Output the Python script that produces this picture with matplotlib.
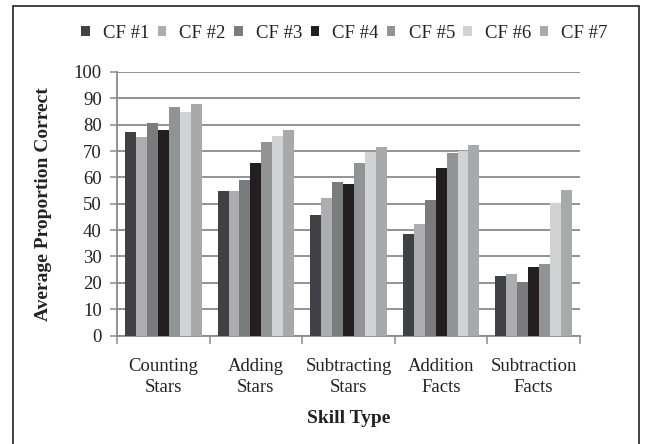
import matplotlib
matplotlib.use("Agg")
import matplotlib.pyplot as plt
from matplotlib.patches import Rectangle
import numpy as np

categories = ["Counting\nStars", "Adding\nStars", "Subtracting\nStars", "Addition\nFacts", "Subtraction\nFacts"]
series_names = ["CF #1", "CF #2", "CF #3", "CF #4", "CF #5", "CF #6", "CF #7"]
cf1 = [77.3, 54.9, 45.9, 38.6, 22.5]
cf2 = [75.2, 54.9, 52.2, 42.3, 23.2]
cf3 = [80.5, 59.0, 58.1, 51.4, 20.4]
cf4 = [78.0, 65.4, 57.6, 63.5, 26.1]
cf5 = [86.6, 73.3, 65.6, 69.1, 27.1]
cf6 = [84.9, 75.6, 69.6, 70.0, 50.1]
cf7 = [87.8, 78.1, 71.4, 72.2, 55.3]
series = [cf1, cf2, cf3, cf4, cf5, cf6, cf7]
colors = ["#404144", "#adadaf", "#7a7b7d", "#231f20", "#929395", "#d1d2d4", "#a8a9ab"]
yticks = list(range(0, 101, 10))

plt.rcParams['font.family'] = ['Liberation Serif', 'DejaVu Serif']

W, H = 646, 444
fig = plt.figure(figsize=(W / 100, H / 100), dpi=100)
ax = fig.add_axes([117 / W, (H - 335.5) / H, (580 - 117) / W, (335.5 - 72) / H])

grid_c = "#8a8a8a"
x = np.arange(len(categories))
group = 0.828
w = group / len(series)
handles = []
for j, (vals, c, name) in enumerate(zip(series, colors, series_names)):
    b = ax.bar(x + (j - 3) * w, vals, width=w, color=c, label=name, zorder=3, linewidth=0)
    handles.append(b)

ax.set_xlim(-0.5, len(categories) - 0.5)
ax.set_ylim(0, 100)
ax.set_yticks(yticks)
ax.set_yticklabels([str(v) for v in yticks], fontsize=13.5, color="#222222")
ax.yaxis.grid(True, color=grid_c, linewidth=1.3, zorder=0)
ax.set_axisbelow(True)
ax.tick_params(axis='y', length=5, width=1.1, color=grid_c, pad=6)

ax.set_xticks(x)
ax.set_xticklabels(categories, fontsize=13.5, color="#222222", linespacing=1.3)
ax.set_xticks(np.arange(-0.5, len(categories)), minor=True)
ax.tick_params(axis='x', which='major', length=0, pad=16)
ax.tick_params(axis='x', which='minor', length=6, width=1.1, color=grid_c)

for s in ["top", "right"]:
    ax.spines[s].set_visible(False)
for s in ["left", "bottom"]:
    ax.spines[s].set_color(grid_c)
    ax.spines[s].set_linewidth(1.3)

ax.set_ylabel("Average Proportion Correct", fontsize=14, fontweight="bold", color="#222222")
ax.yaxis.set_label_coords((52 - 117) / (580 - 117), 0.5)
ax.set_xlabel("Skill Type", fontsize=14, fontweight="bold", color="#222222")
ax.xaxis.set_label_coords(0.5, -(410 - 335.5) / (335.5 - 72))

leg = fig.legend(handles=handles, labels=series_names, loc="center",
                 bbox_to_anchor=((82 + 607) / 2 / W, (H - 33) / H), ncol=7, frameon=False,
                 fontsize=13.5, handlelength=0.45, handleheight=0.45, handletextpad=0.7,
                 columnspacing=0.45, borderaxespad=0)
for t in leg.get_texts():
    t.set_color("#222222")

fig.patches.append(Rectangle((13 / W, -0.05), (639 - 13) / W, (H - 6) / H + 0.05,
                             transform=fig.transFigure, fill=False, edgecolor="#222222",
                             linewidth=1.2))

fig.savefig("out.png", dpi=100)
